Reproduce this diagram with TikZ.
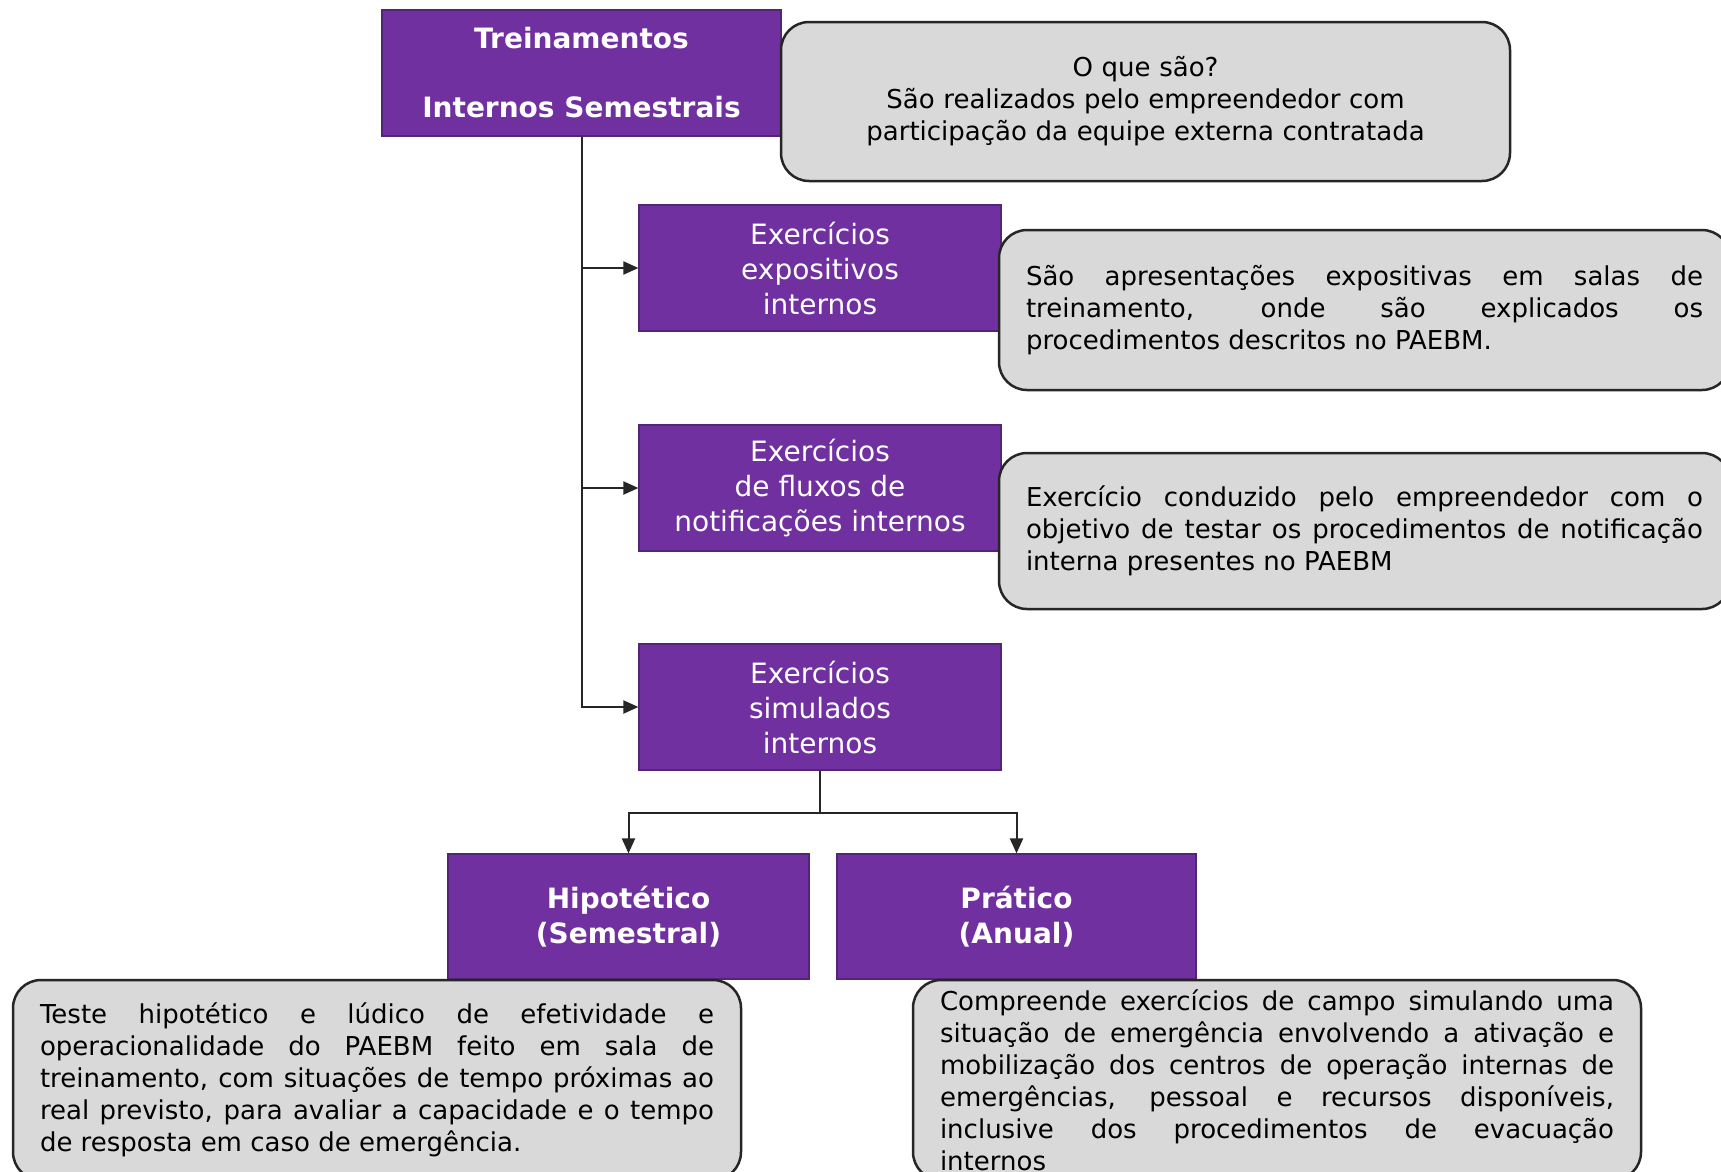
\documentclass[tikz,border=0pt]{standalone}
\usepackage{fontspec}
\setmainfont{DejaVu Sans}
\usetikzlibrary{arrows.meta}
\definecolor{purp}{HTML}{7030A0}
\definecolor{greyfill}{HTML}{D9D9D9}
\definecolor{lineC}{HTML}{262626}
\tolerance=10000
\hyphenpenalty=10000
\exhyphenpenalty=10000
\begin{document}
\begin{tikzpicture}[x=1pt,y=-1pt,
 pbox/.style={draw=purp!75!black, line width=1.2pt, fill=purp, text=white, align=center, inner sep=0pt, font=\fontsize{28}{35}\selectfont},
 gbox/.style={draw=lineC, line width=2.5pt, fill=greyfill, rounded corners=28pt, inner ysep=0pt, inner xsep=27pt, font=\fontsize{26}{32}\selectfont, text=black, align=justify},
 conn/.style={draw=lineC, line width=2pt},
 arr/.style={conn, -{Triangle[length=15pt,width=13pt]}}]
\useasboundingbox[fill=white] (0,0) rectangle (1721,1171);

% purple boxes
\node[pbox, font=\bfseries\fontsize{28}{69}\selectfont, minimum width=399pt, minimum height=126pt] (tit) at (581.5,73) {Treinamentos\\Internos Semestrais};
\node[pbox, minimum width=362pt, minimum height=126pt] (exp) at (820,268) {Exercícios\\expositivos\\internos};
\node[pbox, minimum width=362pt, minimum height=126pt] (flu) at (820,488) {Exercícios\\de fluxos de\\notificações internos};
\node[pbox, minimum width=362pt, minimum height=126pt] (sim) at (820,707) {Exercícios\\simulados\\internos};
\node[pbox, font=\bfseries\fontsize{28}{35}\selectfont, minimum width=361pt, minimum height=125pt] (hip) at (628.5,916.5) {Hipotético\\(Semestral)};
\node[pbox, font=\bfseries\fontsize{28}{35}\selectfont, minimum width=359pt, minimum height=125pt] (pra) at (1016.5,916.5) {Prático\\(Anual)};

% connectors
\draw[arr] (tit.south) |- (exp.west);
\draw[arr] (tit.south) |- (flu.west);
\draw[arr] (tit.south) |- (sim.west);
\coordinate (m) at ([yshift=-42pt]sim.south);
\draw[conn] (sim.south) -- (m);
\draw[arr] (m) -| (hip.north);
\draw[arr] (m) -| (pra.north);

% grey boxes
\node[gbox, align=center, text width=675pt, minimum height=159pt] (g1) at (1145.5,101.5) {O que são?\\São realizados pelo empreendedor com\\participação da equipe externa contratada};
\node[gbox, text width=677pt, minimum height=160pt] (g2) at (1364.5,310) {São apresentações expositivas em salas de\linebreak treinamento, onde são explicados os\linebreak procedimentos descritos no PAEBM.};
\node[gbox, text width=677pt, minimum height=156pt] (g3) at (1364.5,531) {Exercício conduzido pelo empreendedor com o\linebreak objetivo de testar os procedimentos de notificação\linebreak interna presentes no PAEBM};
\node[gbox, text width=674pt, minimum height=200pt] (g4) at (377,1080) {Teste hipotético e lúdico de efetividade e\linebreak operacionalidade do PAEBM feito em sala de\linebreak treinamento, com situações de tempo próximas ao\linebreak real previsto, para avaliar a capacidade e o tempo\linebreak de resposta em caso de emergência.};
\node[gbox, text width=674pt, minimum height=200pt] (g5) at (1277,1080) {Compreende exercícios de campo simulando uma\linebreak situação de emergência envolvendo a ativação e\linebreak mobilização dos centros de operação internas de\linebreak emergências, pessoal e recursos disponíveis,\linebreak inclusive dos procedimentos de evacuação\linebreak internos};
\end{tikzpicture}
\end{document}
